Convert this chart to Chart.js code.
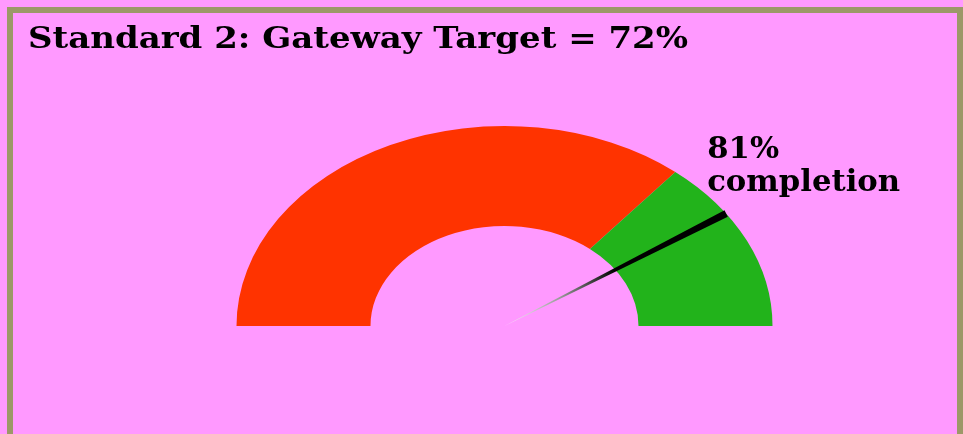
<!DOCTYPE html>
<html>
<head>
<meta charset="utf-8">
<script src="https://cdn.jsdelivr.net/npm/chart.js@4"></script>
<style>
  html, body { margin: 0; padding: 0; background: #ff99ff; overflow: hidden; }
  canvas { display: block; }
</style>
</head>
<body>
<canvas id="c" width="963" height="434"></canvas>
<script>
// ---- data ----
const titleText = 'Standard 2: Gateway Target = 72%';
const bandLabels = ['Below target', 'At / above target'];
const bandValues = [72, 28];          // target = 72%, rest up to 100%
const bandColors = ['#ff3300', '#22b31b'];
const needleValue = 81;               // completion %
const needleLabel = ['81%', 'completion'];

const STRETCH_X = 1.34;               // gauge is drawn as a horizontal ellipse

const gaugePlugin = {
  id: 'gauge',
  beforeDraw(chart) {
    const ctx = chart.ctx;
    ctx.save();
    ctx.fillStyle = '#ff99ff';
    ctx.fillRect(0, 0, chart.width, chart.height);
    ctx.strokeStyle = '#9c9868';
    ctx.lineWidth = 6;
    ctx.strokeRect(10, 10, 950, 500);
    // title
    ctx.fillStyle = '#000';
    ctx.font = 'bold 30px "DejaVu Serif"';
    ctx.textBaseline = 'alphabetic';
    const w = ctx.measureText(titleText).width;
    ctx.translate(28, 48);
    ctx.scale(660 / w, 1);
    ctx.fillText(titleText, 0, 0);
    ctx.restore();
  },
  beforeDatasetsDraw(chart) {
    const arc = chart.getDatasetMeta(0).data[0];
    const ctx = chart.ctx;
    ctx.save();
    ctx.translate(arc.x, arc.y);
    ctx.scale(STRETCH_X, 1);
    ctx.translate(-arc.x, -arc.y);
  },
  afterDatasetsDraw(chart) {
    const ctx = chart.ctx;
    ctx.restore();
    const meta = chart.getDatasetMeta(0);
    const first = meta.data[0];
    const total = bandValues.reduce((a, b) => a + b, 0);
    const start = first.startAngle;
    const ang = start + (needleValue / total) * Math.PI;
    const cx = first.x, cy = first.y, R = first.outerRadius;
    const tx = cx + Math.cos(ang) * R * STRETCH_X;
    const ty = cy + Math.sin(ang) * R;
    const dx = tx - cx, dy = ty - cy;
    const len = Math.hypot(dx, dy);
    const nx = -dy / len, ny = dx / len;
    const half = 3.6;
    ctx.save();
    const g = ctx.createLinearGradient(cx, cy, tx, ty);
    g.addColorStop(0, '#ffffff');
    g.addColorStop(0.25, '#999999');
    g.addColorStop(0.5, '#000000');
    g.addColorStop(1, '#000000');
    ctx.fillStyle = g;
    ctx.beginPath();
    ctx.moveTo(cx, cy);
    ctx.lineTo(tx + nx * half, ty + ny * half);
    ctx.lineTo(tx - nx * half, ty - ny * half);
    ctx.closePath();
    ctx.fill();
    // label
    ctx.fillStyle = '#000';
    ctx.font = 'bold 29px "DejaVu Serif"';
    ctx.textBaseline = 'alphabetic';
    const lw = ctx.measureText(needleLabel[1]).width;
    const sx = 193 / lw;
    ctx.translate(tx - 19, ty);
    ctx.scale(sx, 1);
    ctx.fillText(needleLabel[0], 0, -56);
    ctx.fillText(needleLabel[1], 0, -23);
    ctx.restore();
  }
};

new Chart(document.getElementById('c'), {
  type: 'doughnut',
  data: {
    labels: bandLabels,
    datasets: [{
      data: bandValues,
      backgroundColor: bandColors,
      borderWidth: 0
    }]
  },
  options: {
    responsive: false,
    animation: false,
    rotation: -90,
    circumference: 180,
    cutout: '50%',
    layout: { padding: { top: 126, bottom: 108, left: 250, right: 204 } },
    plugins: {
      legend: { display: false },
      tooltip: { enabled: false },
      title: { display: false }
    }
  },
  plugins: [gaugePlugin]
});
</script>
</body>
</html>
